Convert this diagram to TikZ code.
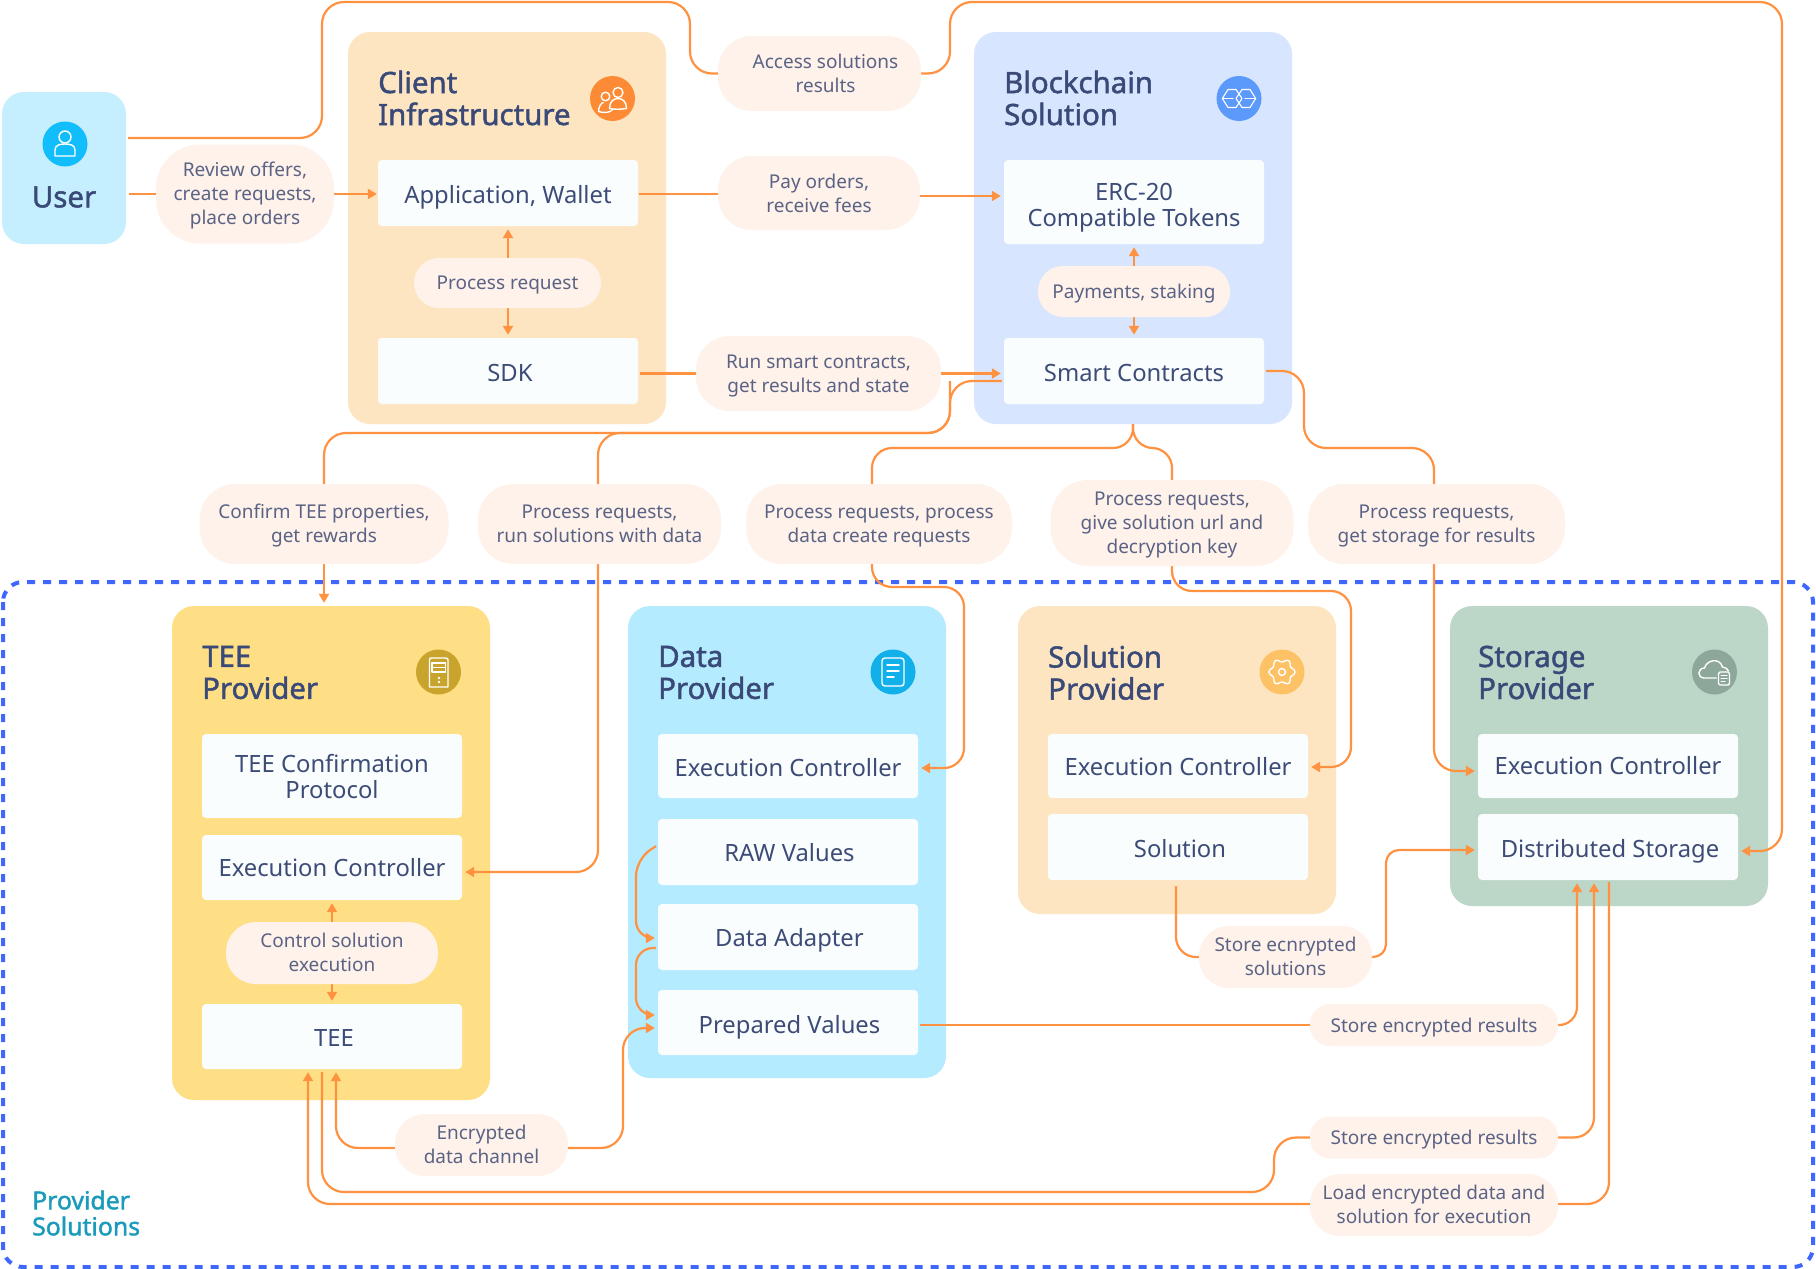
\documentclass[tikz,border=0pt]{standalone}
\usepackage{fontspec}
\setmainfont{Noto Sans}
\newfontfamily\headfont{Noto Sans}[FakeBold=1.6]
\usetikzlibrary{arrows.meta,calc}
\definecolor{orangeC}{HTML}{FF9240}
\definecolor{headC}{HTML}{3A4A78}
\definecolor{boxT}{HTML}{3D4C77}
\definecolor{pillT}{HTML}{5B6385}
\definecolor{pillF}{HTML}{FEF2EA}
\definecolor{boxF}{HTML}{FAFDFE}
\definecolor{dashC}{HTML}{3F66FF}
\definecolor{fUser}{HTML}{C5EFFE}
\definecolor{fClient}{HTML}{FDE5C1}
\definecolor{fBlock}{HTML}{D7E6FE}
\definecolor{fTee}{HTML}{FFDF85}
\definecolor{fData}{HTML}{B5EBFE}
\definecolor{fStor}{HTML}{BCD6C7}
\definecolor{provC}{HTML}{1A9BBB}
\definecolor{bUser}{HTML}{12BDFC}
\definecolor{bClient}{HTML}{FD8B35}
\definecolor{bBlock}{HTML}{5B99FB}
\definecolor{bTee}{HTML}{C9A42D}
\definecolor{bData}{HTML}{12B0EA}
\definecolor{bSol}{HTML}{FDC266}
\definecolor{bStor}{HTML}{8DA89A}
\pgfdeclarelayer{bg}
\pgfdeclarelayer{conn}
\pgfsetlayers{bg,conn,main}
\tikzset{
  panel/.style={rectangle,rounded corners=22pt,inner sep=0pt,draw=none},
  inbox/.style={rectangle,rounded corners=4pt,fill=boxF,inner sep=0pt,align=center,text=boxT,font=\fontsize{23.8}{26}\selectfont,minimum width=260pt,text depth=0pt},
  pill/.style={rectangle,rounded corners=#1,fill=pillF,inner sep=0pt,align=center,text=pillT,font=\fontsize{19}{24}\selectfont,text depth=0pt},
  ptitle/.style={anchor=west,align=left,inner sep=0pt,text=headC,font=\headfont\fontsize{29.4}{32}\selectfont},
  badge/.style={circle,inner sep=0pt,minimum size=45pt},
  conn/.style={draw=orangeC,line width=2.2pt,rounded corners=22pt},
  arr/.style={conn,-{Triangle[length=9pt,width=10pt]},shorten >=3pt},
  ico/.style={draw=white,line width=1.4pt,line join=round,line cap=round},
}
\begin{document}
\begin{tikzpicture}[x=1pt,y=-1pt]
\useasboundingbox (0,0) rectangle (1816,1269);
% panels
\begin{pgfonlayer}{bg}
\fill[white] (0,0) rectangle (1816,1269);
\draw[dashC,line width=4pt,dash pattern=on 8pt off 8pt,rounded corners=20pt] (3,582) rectangle (1813,1267);
\node[panel,fill=fUser,minimum width=124pt,minimum height=152pt] (user) at (64,168) {};
\node[panel,fill=fClient,minimum width=318pt,minimum height=392pt] (client) at (507,228) {};
\node[panel,fill=fBlock,minimum width=318pt,minimum height=392pt] (block) at (1133,228) {};
\node[panel,fill=fTee,minimum width=318pt,minimum height=494pt] (tee) at (331,853) {};
\node[panel,fill=fData,minimum width=318pt,minimum height=472pt] (data) at (787,842) {};
\node[panel,fill=fClient,minimum width=318pt,minimum height=308pt] (sol) at (1177,760) {};
\node[panel,fill=fStor,minimum width=318pt,minimum height=300pt] (stor) at (1609,756) {};
\end{pgfonlayer}
% titles
\node[inner sep=0pt,text=headC,font=\headfont\fontsize{29.4}{32}\selectfont] (userT) at (64,197) {User};
\node[ptitle] (clientT) at (378,98) {Client\\Infrastructure};
\node[ptitle] (blockT) at (1004,98) {Blockchain\\Solution};
\node[ptitle] (teeT) at (202,672.5) {TEE\\Provider};
\node[ptitle] (dataT) at (658,672.5) {Data\\Provider};
\node[ptitle] (solT) at (1048,672.5) {Solution\\Provider};
\node[ptitle] (storT) at (1478,672.5) {Storage\\Provider};
\node[anchor=west,align=left,inner sep=0pt,text=provC,font=\headfont\fontsize{24.8}{26}\selectfont] (provT) at (32,1213) {Provider\\Solutions};
% inner boxes
\node[inbox,minimum height=66pt,text height=20pt] (app) at (508,193) {Application, Wallet};
\node[inbox,minimum height=66pt,text height=20pt] (sdk) at (508,371) {\hspace*{4pt}SDK};
\node[inbox,minimum height=84pt,text height=48pt] (erc) at (1134,202) {ERC-20\\Compatible Tokens};
\node[inbox,minimum height=66pt,text height=20pt] (smart) at (1134,371) {Smart Contracts};
\node[inbox,minimum height=84pt] (teeconf) at (332,776) {TEE Confirmation\\Protocol};
\node[inbox,minimum height=65pt] (teeexec) at (332,867.5) {Execution Controller};
\node[inbox,minimum height=65pt,text height=20pt] (teebox) at (332,1036.5) {\hspace*{4pt}TEE};
\node[inbox,minimum height=64pt,text height=20pt] (dexec) at (788,766) {Execution Controller};
\node[inbox,minimum height=66pt] (raw) at (788,852) {\hspace*{3pt}RAW Values};
\node[inbox,minimum height=66pt] (adapter) at (788,937) {\hspace*{3pt}Data Adapter};
\node[inbox,minimum height=65pt,text height=22.5pt] (prep) at (788,1022.5) {\hspace*{3pt}Prepared Values};
\node[inbox,minimum height=64pt] (sexec) at (1178,766) {Execution Controller};
\node[inbox,minimum height=66pt,text height=20pt] (solu) at (1178,847) {\hspace*{4pt}Solution};
\node[inbox,minimum height=64pt,text depth=2pt] (stexec) at (1608,766) {Execution Controller};
\node[inbox,minimum height=66pt,text height=20pt] (dist) at (1608,847) {\hspace*{4pt}Distributed Storage};
% pills
\node[pill=44pt,minimum width=178pt,minimum height=99pt,text depth=2pt] (review) at (245,194) {Review offers,\\create requests,\\place orders};
\node[pill=25pt,minimum width=187pt,minimum height=50pt] (process) at (507.5,283) {Process request};
\node[pill=34pt,minimum width=203pt,minimum height=75pt] (access) at (819.5,73.5) {\hspace*{12pt}Access solutions\\\hspace*{12pt}results};
\node[pill=34pt,minimum width=202pt,minimum height=74pt] (pay) at (819,193) {Pay orders,\\receive fees};
\node[pill=34pt,minimum width=245pt,minimum height=75pt] (run) at (818.5,373.5) {Run smart contracts,\\get results and state};
\node[pill=25pt,minimum width=192pt,minimum height=51pt] (payments) at (1134,291.5) {Payments, staking};
\node[pill=36pt,minimum width=249pt,minimum height=80pt,text depth=2pt] (confirm) at (324,524) {Confirm TEE properties,\\get rewards};
\node[pill=36pt,minimum width=243pt,minimum height=80pt] (procrun) at (599.5,524) {Process requests,\\run solutions with data};
\node[pill=36pt,minimum width=266pt,minimum height=80pt] (procdata) at (879,524) {Process requests, process\\data create requests};
\node[pill=38pt,minimum width=243pt,minimum height=86pt] (procsol) at (1172,523) {Process requests,\\give solution url and\\decryption key};
\node[pill=36pt,minimum width=257pt,minimum height=80pt] (procstor) at (1436.5,524) {Process requests,\\get storage for results};
\node[pill=30pt,minimum width=212pt,minimum height=62pt,text depth=2pt] (control) at (332,953) {Control solution\\execution};
\node[pill=30pt,minimum width=173pt,minimum height=62pt,text depth=2pt] (encr) at (481.5,1145) {Encrypted\\data channel};
\node[pill=30pt,minimum width=173pt,minimum height=62pt,text depth=2pt] (solstore) at (1285.5,957) {Store ecnrypted\\solutions};
\node[pill=20pt,minimum width=248pt,minimum height=42pt] (store1) at (1434,1025) {Store encrypted results};
\node[pill=20pt,minimum width=248pt,minimum height=42pt] (store2) at (1434,1137.5) {Store encrypted results};
\node[pill=30pt,minimum width=248pt,minimum height=62pt,text depth=2pt] (load) at (1434,1205) {Load encrypted data and\\solution for execution};
% badges and icons
\node[badge,fill=bUser] (icoUser) at (65,144) {};
\node[badge,fill=bClient] (icoClient) at (612.5,98.5) {};
\node[badge,fill=bBlock] (icoBlock) at (1239,98.5) {};
\node[badge,fill=bTee] (icoTee) at (438.5,672) {};
\node[badge,fill=bData] (icoData) at (893,672) {};
\node[badge,fill=bSol] (icoSol) at (1282,672) {};
\node[badge,fill=bStor] (icoStor) at (1714.5,672) {};
\begin{scope}[shift={(65,144)}]
\draw[ico] (0,-7) circle (6pt);
\draw[ico] (-10,12) -- (-10,6) .. controls (-10,1) and (-5,0) .. (0,0) .. controls (5,0) and (10,1) .. (10,6) -- (10,12) -- cycle;
\end{scope}
\begin{scope}[shift={(612.5,98.5)}]
\draw[ico] (5.5,-6) circle (5pt);
\draw[ico] (-7,-2) circle (4.3pt);
\draw[ico] (-9,4) .. controls (-11,4) and (-14,8) .. (-14,13) .. controls (-8,15) and (-2,14) .. (0,11);
\draw[ico] (-3,10) .. controls (-3,3) and (1,0) .. (5.5,0) .. controls (10,0) and (14,3) .. (14,10) .. controls (8,11) and (2,11) .. (-3,10) -- cycle;
\end{scope}
\begin{scope}[shift={(1239,98.5)}]
\draw[ico,line width=1.1pt] (-16.7,0) -- (-11,-9) -- (-3,-9) -- (3,0) -- (-3,9) -- (-11,9) -- cycle;
\draw[ico,line width=1.1pt] (16.7,0) -- (11,-9) -- (3,-9) -- (-3,0) -- (3,9) -- (11,9) -- cycle;
\draw[ico,line width=1.1pt] (-16.7,0) -- (-6,0);
\draw[ico,line width=1.1pt] (16.7,0) -- (6,0);
\end{scope}
\begin{scope}[shift={(438.5,672)}]
\draw[ico] (-9,15) -- (-9,-12) .. controls (-9,-14) and (-8,-14) .. (-7,-14) -- (7,-14) .. controls (9,-14) and (9.5,-13) .. (9.5,-12) -- (9.5,15) -- cycle;
\draw[ico] (-6.5,-9) rectangle (7,0);
\draw[ico] (-6.5,-4.5) -- (7,-4.5);
\fill[white] (0.5,6) circle (1.3pt) (0.5,10) circle (1.3pt);
\end{scope}
\begin{scope}[shift={(893,672)}]
\draw[ico,rounded corners=3pt] (-11,-14) rectangle (11,14);
\draw[ico] (-6,-7) -- (6,-7) (-6,-1) -- (6,-1) (-6,5) -- (1,5);
\end{scope}
\begin{scope}[shift={(1282,672)}]
\draw[ico] plot[domain=0:360,samples=121,smooth] ({(11.5+1.5*cos(6*\x))*cos(\x)},{(11.5+1.5*cos(6*\x))*sin(\x)}) -- cycle;
\draw[ico] (0,0) circle (3.5pt);
\end{scope}
\begin{scope}[shift={(1714.5,672)}]
\draw[ico] (2,6) -- (-10,6) .. controls (-18,6) and (-17,-4) .. (-10,-4) .. controls (-8,-12) and (5,-15) .. (8,-5) .. controls (11,-5) and (13,-3) .. (14,-1);
\draw[ico,rounded corners=1.5pt] (4,0) rectangle (15,13);
\draw[ico,line width=1pt] (6.5,3.5) -- (12.5,3.5) (6.5,6.5) -- (12.5,6.5) (6.5,9.5) -- (10.5,9.5);
\end{scope}
% connectors
\begin{pgfonlayer}{conn}
\draw[conn,shorten <=2pt] ([yshift=30pt]user.east) -- (322,138) -- (322,2) -- (690,2) -- (690,73.5) -- (access.west);
\draw[conn,shorten <=3pt] ([yshift=-26pt]user.east) -- (review.west);
\draw[arr,shorten >=1pt] (review.east) -- ([yshift=-1pt]app.west);
\draw[conn,shorten <=1pt] ([yshift=-1pt]app.east) -- ([yshift=-1pt]pay.west);
\draw[arr] ([yshift=-3pt]pay.east) -- ([yshift=6pt]erc.west);
\draw[conn,shorten <=2pt] ([yshift=-2.5pt]sdk.east) -- (run.west);
\draw[arr] (run.east) -- ([yshift=-2.5pt]smart.west);
\draw[arr] (process.north -| app.south) -- (app.south);
\draw[arr] (process.south -| sdk.north) -- (sdk.north);
\draw[arr] (payments.north) -- (erc.south);
\draw[arr] (payments.south) -- (smart.north);
% smart contracts to TEE and data route
\draw[conn,shorten <=2pt] ([yshift=-10pt]smart.west) -- (950,381) -- (950,433) -- (324,433) -- (confirm.north);
\draw[arr] (confirm.south) -- (confirm.south |- tee.north);
\draw[conn] (950,381) -- (950,433) -- (598,433) -- ([xshift=-1.5pt]procrun.north);
\draw[arr] ([xshift=-1.5pt]procrun.south) -- (598,872) -- ([yshift=-4.5pt]teeexec.east);
% blockchain forks
\draw[conn,rounded corners=20pt] (block.south) -- (1133,448) -- (872,448) -- ([xshift=-7pt]procdata.north);
\draw[conn,rounded corners=20pt] (block.south) -- (1133,448) -- (1172,448) -- (procsol.north);
\draw[arr,rounded corners=20pt] ([xshift=-7pt]procdata.south) -- (872,587) -- (964,587) -- (964,768) -- ([yshift=-2pt]dexec.east);
\draw[arr,rounded corners=20pt] (procsol.south) -- (1172,591) -- (1351,591) -- (1351,767) -- ([yshift=-1pt]sexec.east);
% smart contracts to storage
\draw[conn,shorten <=2pt] (smart.east) -- (1304,371) -- (1304,448) -- (1434,448) -- ([xshift=-2.5pt]procstor.north);
\draw[arr] ([xshift=-2.5pt]procstor.south) -- (1434,771) -- ([yshift=-5pt]stexec.west);
\draw[arr] (access.east) -- (950,73.5) -- (950,2) -- (1782,2) -- (1782,851) -- ([yshift=-4pt]dist.east);
% data internals
\draw[arr,rounded corners=17pt,shorten <=2pt] ([yshift=7pt]raw.west) -- (636,859) -- (636,938) -- ([yshift=-1pt]adapter.west);
\draw[arr,rounded corners=17pt,shorten <=2pt] ([yshift=-11pt]adapter.west) -- (636,948) -- (636,1015) -- ([yshift=7.5pt]prep.west);
\draw[arr] ([yshift=-3pt]encr.east) -- (623,1148) -- (623,1028) -- ([yshift=-5.5pt]prep.west);
\draw[arr] ([yshift=-3pt]encr.west) -- (336,1148) -- ([xshift=4pt]teebox.south);
% solution to storage
\draw[conn,rounded corners=20pt,shorten <=6pt] ([xshift=-2pt]solu.south) -- (1176,957) -- (solstore.west);
\draw[arr,rounded corners=13pt] (solstore.east) -- (1386,957) -- (1386,850) -- ([yshift=-3pt]dist.west);
% results
\draw[conn,shorten <=2pt] ([yshift=-2.5pt]prep.east) -- (store1.west);
\draw[arr,rounded corners=18pt] (store1.east) -- (1577,1025) -- ([xshift=-31pt]dist.south);
\draw[arr,rounded corners=20pt] (store2.east) -- (1594,1137.5) -- ([xshift=-14pt]dist.south);
\draw[conn,shorten >=2pt] ([yshift=1pt]load.east) -- (1609,1204) -- ([xshift=1pt]dist.south);
\draw[arr] ([yshift=1pt]load.west) -- (308,1204) -- ([xshift=-24pt]teebox.south);
\draw[conn,shorten >=3pt] (store2.west) -- (1274,1137.5) -- (1274,1192) -- (322,1192) -- ([xshift=-10pt]teebox.south);
\draw[arr] (control.north) -- (teeexec.south);
\draw[arr] (control.south) -- (teebox.north);
\end{pgfonlayer}
\end{tikzpicture}
\end{document}
